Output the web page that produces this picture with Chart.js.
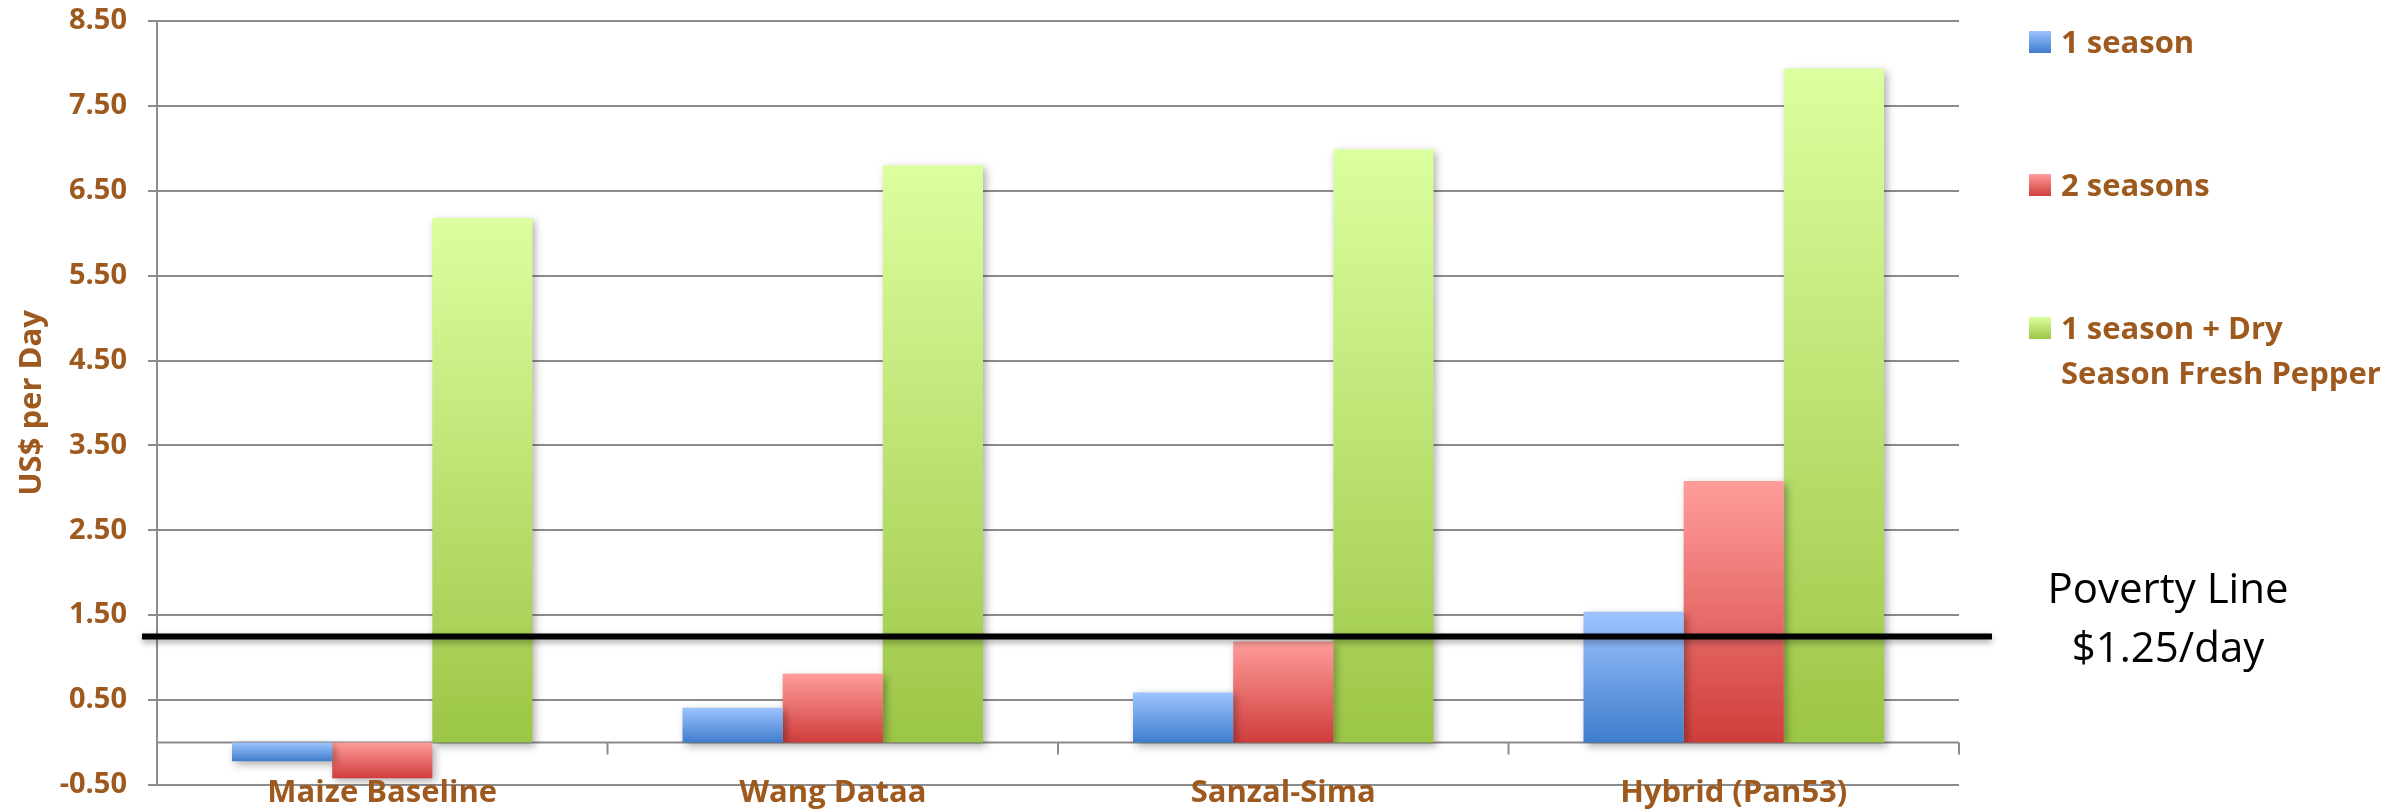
<!DOCTYPE html>
<html>
<head>
<title>US$ per Day</title>
<script src="https://cdn.jsdelivr.net/npm/chart.js"></script>
<style>
  body { margin: 0; background: #fff; overflow: hidden; }
  #wrap { width: 2390px; height: 811px; }
</style>
</head>
<body>
<div id="wrap"><canvas id="myChart"></canvas></div>
<script>
// data
const categories = ['Maize Baseline', 'Wang Dataa', 'Sanzal-Sima', 'Hybrid (Pan53)'];
const seriesNames = ['1 season', '2 seasons', '1 season + Dry\nSeason Fresh Pepper'];
const oneSeason = [-0.22, 0.41, 0.59, 1.54];
const twoSeasons = [-0.42, 0.81, 1.19, 3.08];
const dryPepper = [6.18, 6.80, 6.99, 7.94];
const yTicks = [-0.5, 0.5, 1.5, 2.5, 3.5, 4.5, 5.5, 6.5, 7.5, 8.5];
const povertyLine = 1.25;
const povertyText = ['Poverty Line', '$1.25/day'];

const brown = '#9E5A1E';
const gridGrey = '#8C8C8C';
const fontName = '"Open Sans", "Noto Sans", sans-serif';

// light top, dark bottom, like the office-style bars
const palette = [
    { top: '#9DC4FF', bottom: '#3F7DCC', swatch: '#6A9EE6' },
    { top: '#FF9D9B', bottom: '#CF3D3B', swatch: '#E86A68' },
    { top: '#DCFF9F', bottom: '#9CC646', swatch: '#BDE278' }
];

function barFill(i) {
    return function (context) {
        const chart = context.chart;
        const y = chart.scales.y;
        if (!chart.chartArea || !y || context.raw === undefined) return palette[i].swatch;
        const p = y.getPixelForValue(context.raw);
        const z = y.getPixelForValue(0);
        const y1 = Math.min(p, z), y2 = Math.max(p, z) + 0.01;
        const g = chart.ctx.createLinearGradient(0, y1, 0, y2);
        g.addColorStop(0, palette[i].top);
        g.addColorStop(1, palette[i].bottom);
        return g;
    };
}

const seriesValues = [oneSeason, twoSeasons, dryPepper];

const cdata = {
    labels: categories,
    datasets: seriesValues.map((vals, i) => ({
        label: seriesNames[i],
        data: vals,
        backgroundColor: barFill(i),
        borderWidth: 0,
        barPercentage: 1.0,
        categoryPercentage: 0.667
    }))
};

// zero line, category ticks and bar shadows
const underBars = {
    id: 'underBars',
    beforeDatasetsDraw(chart) {
        const ctx = chart.ctx, x = chart.scales.x, y = chart.scales.y;
        const z = y.getPixelForValue(0);
        ctx.save();
        ctx.strokeStyle = gridGrey;
        ctx.lineWidth = 2;
        ctx.beginPath();
        ctx.moveTo(chart.chartArea.left, z);
        ctx.lineTo(chart.chartArea.right, z);
        const n = categories.length;
        for (let k = 0; k <= n; k++) {
            const px = x.left + (x.right - x.left) * k / n;
            ctx.moveTo(px, z);
            ctx.lineTo(px, z + 12);
        }
        ctx.stroke();
        ctx.restore();

        ctx.save();
        ctx.shadowColor = 'rgba(0,0,0,0.32)';
        ctx.shadowBlur = 8;
        ctx.shadowOffsetX = 3;
        ctx.shadowOffsetY = 3;
    },
    afterDatasetsDraw(chart) {
        chart.ctx.restore();
    }
};

// category names, poverty line with its note, and the legend
const overlay = {
    id: 'overlay',
    afterDraw(chart) {
        const ctx = chart.ctx, area = chart.chartArea, x = chart.scales.x, y = chart.scales.y;

        ctx.save();
        ctx.fillStyle = brown;
        ctx.font = 'bold 31px ' + fontName;
        ctx.textAlign = 'center';
        ctx.textBaseline = 'alphabetic';
        chart.data.labels.forEach((lab, i) => {
            ctx.fillText(lab, x.getPixelForValue(i), area.bottom + 17);
        });
        ctx.restore();

        const py = y.getPixelForValue(povertyLine);
        ctx.save();
        ctx.shadowColor = 'rgba(0,0,0,0.35)';
        ctx.shadowBlur = 6;
        ctx.shadowOffsetY = 3;
        ctx.strokeStyle = '#000';
        ctx.lineWidth = 6;
        ctx.beginPath();
        ctx.moveTo(area.left - 15, py);
        ctx.lineTo(area.right + 33, py);
        ctx.stroke();
        ctx.restore();

        ctx.save();
        ctx.fillStyle = '#000';
        ctx.font = '42px ' + fontName;
        ctx.textAlign = 'center';
        ctx.textBaseline = 'middle';
        const cx = area.right + 209;
        ctx.fillText(povertyText[0], cx, py - 45);
        ctx.fillText(povertyText[1], cx, py + 14);
        ctx.restore();

        ctx.save();
        const lx = area.right + 70;
        ctx.font = 'bold 31px ' + fontName;
        ctx.textBaseline = 'middle';
        ctx.textAlign = 'left';
        chart.data.datasets.forEach((ds, i) => {
            const cy = area.top + 21 + i * 143;
            const g = ctx.createLinearGradient(0, cy - 11, 0, cy + 11);
            g.addColorStop(0, palette[i].top);
            g.addColorStop(1, palette[i].bottom);
            ctx.fillStyle = g;
            ctx.fillRect(lx, cy - 11, 22, 22);
            ctx.fillStyle = brown;
            ds.label.split('\n').forEach((line, j) => {
                ctx.fillText(line, lx + 32, cy + 2 + j * 45);
            });
        });
        ctx.restore();
    }
};

const config = {
    type: 'bar',
    data: cdata,
    options: {
        responsive: true,
        maintainAspectRatio: false,
        animation: false,
        layout: { padding: { top: 21, right: 431, bottom: 26, left: 0 } },
        plugins: {
            legend: { display: false },
            tooltip: { enabled: false }
        },
        scales: {
            x: {
                grid: { display: false, drawTicks: false },
                border: { display: false },
                ticks: { display: false }
            },
            y: {
                min: -0.5,
                max: 8.5,
                afterBuildTicks: (scale) => { scale.ticks = yTicks.map(v => ({ value: v })); },
                afterFit: (scale) => {
                    scale.width = 157;
                    scale.paddingTop = 0;
                    scale.paddingBottom = 0;
                },
                grid: { color: gridGrey, lineWidth: 2, tickLength: 9 },
                border: { color: gridGrey, width: 2 },
                ticks: {
                    color: brown,
                    padding: 21,
                    autoSkip: false,
                    font: { family: fontName, size: 29, weight: 'bold' },
                    callback: (v) => Number(v).toFixed(2)
                },
                title: {
                    display: true,
                    text: 'US$ per Day',
                    color: brown,
                    padding: { top: 14, bottom: 0 },
                    font: { family: fontName, size: 31, weight: 'bold' }
                }
            }
        }
    },
    plugins: [underBars, overlay]
};

const ctx = document.getElementById('myChart').getContext('2d');
const myChart = new Chart(ctx, config);
</script>
</body>
</html>
